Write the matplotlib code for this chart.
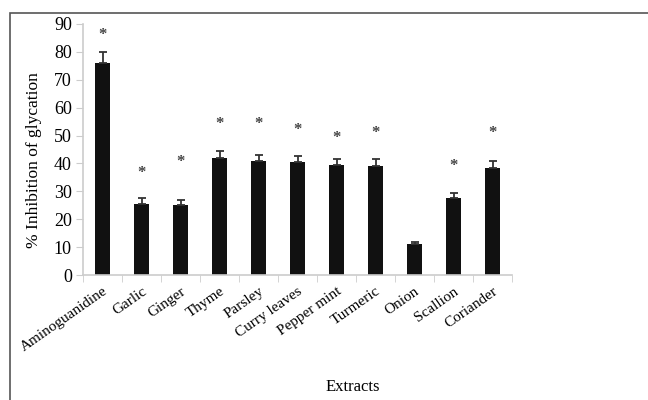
import matplotlib as mpl
mpl.use('Agg')
import matplotlib.pyplot as plt
import numpy as np
from matplotlib.patches import Rectangle

extracts = ['Aminoguanidine', 'Garlic', 'Ginger', 'Thyme', 'Parsley', 'Curry leaves',
            'Pepper mint', 'Turmeric', 'Onion', 'Scallion', 'Coriander']
inhibition = [76, 25.5, 25, 42, 41, 40.5, 39.5, 39, 11, 27.5, 38.5]
errors = [4, 2, 2, 2.5, 2, 2, 2, 2.5, 1, 2, 2.5]
# height of significance star, None when not significant
star_y = [86, 36.5, 40.5, 54, 54, 52, 49, 51, None, 39, 51]

plt.rcParams['font.family'] = 'Liberation Serif'

fig = plt.figure(figsize=(6.48, 4.0), dpi=100)
fig.patches.append(Rectangle((10/648, -0.1), 1.0, 1 - 13/400 + 0.1, transform=fig.transFigure,
                             fill=False, edgecolor='#555555', linewidth=1.2))
ax = fig.add_axes([83/648, 1 - 275/400, (512 - 83)/648, (275 - 24)/400])

x = np.arange(len(extracts))
ax.bar(x, inhibition, width=0.38, color='#111111', zorder=2)
ax.errorbar(x, inhibition, yerr=[np.zeros(len(errors)), errors], fmt='none',
            ecolor='#333333', elinewidth=1.3, capsize=3, capthick=1.3, zorder=3)
for xi, sy in zip(x, star_y):
  if sy is not None:
    ax.text(xi, sy, '*', ha='center', va='center', fontsize=12, color='#444444',
            fontweight='bold')

ax.set_xlim(-0.5, len(extracts) - 0.5)
ax.set_ylim(0, 90)
ax.set_yticks(range(0, 91, 10))
ax.set_xticks(x)
ax.set_xticklabels(extracts, rotation=35, ha='right', rotation_mode='anchor', fontsize=11)
ax.set_xticks(np.arange(-0.5, len(extracts), 1), minor=True)
ax.tick_params(axis='x', which='major', length=0, pad=7)
ax.tick_params(axis='x', which='minor', length=5, color='#cccccc', direction='out')
ax.tick_params(axis='y', length=5, color='#cccccc', labelsize=13, pad=3)

for s in ['top', 'right']:
  ax.spines[s].set_visible(False)
for s in ['left', 'bottom']:
  ax.spines[s].set_color('#cccccc')
  ax.spines[s].set_linewidth(1.2)

ax.set_ylabel('% Inhibition of glycation', fontsize=12.5)
ax.yaxis.set_label_coords(-(83 - 42)/429, (275 - 160)/251)
fig.text(353/648, 1 - 387/400, 'Extracts', ha='center', va='center', fontsize=12)

plt.savefig('out.png', dpi=100)
